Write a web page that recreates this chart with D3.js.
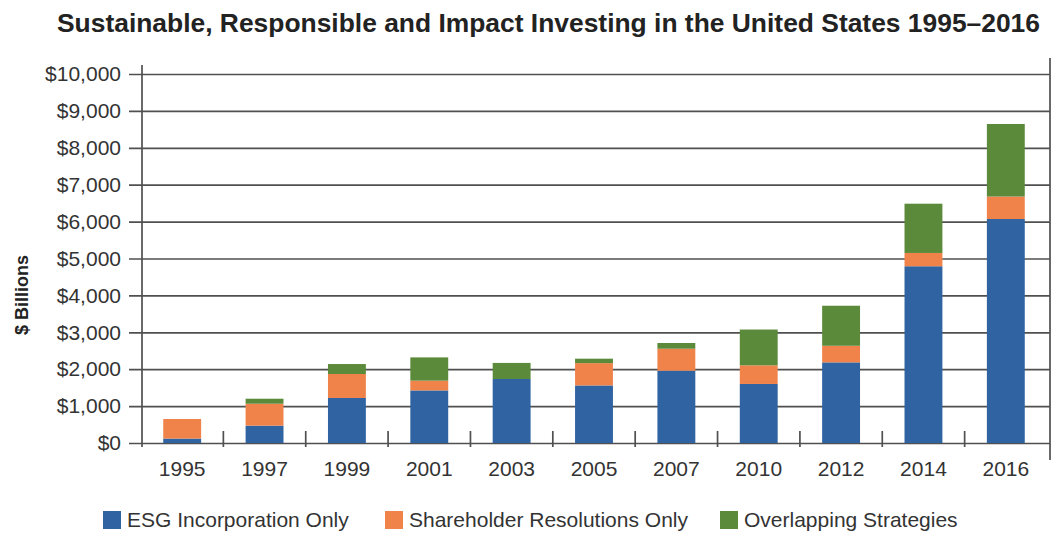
<!DOCTYPE html>
<html>
<head>
<meta charset="utf-8">
<script src="https://cdn.jsdelivr.net/npm/d3@7"></script>
<style>
  body { margin: 0; background: #fff; }
  svg { display: block; font-family: "Liberation Sans", Arial, sans-serif; }
</style>
</head>
<body>
<svg id="chart" width="1055" height="534"></svg>
<script>
const years = ["1995", "1997", "1999", "2001", "2003", "2005", "2007", "2010", "2012", "2014", "2016"];
const esgOnly = [120, 470, 1220, 1425, 1735, 1560, 1960, 1600, 2185, 4790, 6070];
const shareholderOnly = [530, 595, 650, 265, 0, 605, 595, 505, 450, 360, 610];
const overlapping = [0, 135, 270, 630, 435, 120, 155, 970, 1085, 1335, 1965];
const seriesNames = ["ESG Incorporation Only", "Shareholder Resolutions Only", "Overlapping Strategies"];
const yTicks = [0, 1000, 2000, 3000, 4000, 5000, 6000, 7000, 8000, 9000, 10000];
const colors = ["#2f63a1", "#f0834a", "#5b8a3a"];

const title = "Sustainable, Responsible and Impact Investing in the United States 1995\u20132016";
const gridColor = "#505050";
const labelSize = "21px";

const plot = { left: 141, right: 1047, top: 74, bottom: 443 };

const svg = d3.select("#chart");

const rows = years.map((y, i) => ({
    year: y,
    esg: esgOnly[i],
    sr: shareholderOnly[i],
    ov: overlapping[i]
}));
const stack = d3.stack().keys(["esg", "sr", "ov"])(rows);

const x = d3.scaleBand()
    .domain(years)
    .range([plot.left, plot.right])
    .paddingInner(0.54)
    .paddingOuter(0.27);

const y = d3.scaleLinear()
    .domain([0, 10000])
    .range([plot.bottom, plot.top]);

// title
svg.append("text")
    .attr("x", 57)
    .attr("y", 32)
    .attr("textLength", 983)
    .attr("lengthAdjust", "spacingAndGlyphs")
    .style("font-size", "25px")
    .style("font-weight", "bold")
    .style("fill", "#222")
    .text(title);

// y axis with gridlines
const yAxis = svg.append("g")
    .attr("transform", "translate(" + plot.left + ",0)")
    .call(d3.axisLeft(y)
        .tickValues(yTicks)
        .tickSize(-(1050 - plot.left))
        .tickPadding(20)
        .tickFormat(d => "$" + d3.format(",")(d)));
yAxis.select(".domain").remove();
yAxis.selectAll(".tick line")
    .attr("x1", -12)
    .attr("stroke", gridColor)
    .attr("stroke-width", 1.7);
yAxis.selectAll(".tick text")
    .attr("x", -20)
    .style("font-size", labelSize)
    .style("fill", "#333");

// left axis line and right border line
svg.append("line")
    .attr("x1", plot.left + 1).attr("x2", plot.left + 1)
    .attr("y1", 65).attr("y2", 447)
    .attr("stroke", gridColor).attr("stroke-width", 1.7);
svg.append("line")
    .attr("x1", 1050).attr("x2", 1050)
    .attr("y1", 58).attr("y2", 460)
    .attr("stroke", gridColor).attr("stroke-width", 1.7);

// bars
svg.append("g")
    .selectAll("g")
    .data(stack)
    .join("g")
    .attr("fill", (d, i) => colors[i])
    .selectAll("rect")
    .data(d => d)
    .join("rect")
    .attr("x", d => x(d.data.year))
    .attr("width", x.bandwidth())
    .attr("y", d => y(d[1]))
    .attr("height", d => y(d[0]) - y(d[1]));

// x axis: labels centred in bands, ticks at band boundaries
const xAxis = svg.append("g")
    .attr("transform", "translate(0," + plot.bottom + ")")
    .call(d3.axisBottom(x).tickSize(0).tickPadding(18));
xAxis.select(".domain").remove();
xAxis.selectAll(".tick text")
    .style("font-size", labelSize)
    .style("fill", "#333");

const boundary = d => x(d) - x.step() * x.paddingInner() / 2;
svg.append("g")
    .selectAll("line")
    .data(years.slice(1))
    .join("line")
    .attr("x1", boundary)
    .attr("x2", boundary)
    .attr("y1", plot.bottom - 12)
    .attr("y2", plot.bottom + 4)
    .attr("stroke", gridColor)
    .attr("stroke-width", 1.7);

// y axis title
svg.append("text")
    .attr("transform", "translate(28,295) rotate(-90)")
    .attr("text-anchor", "middle")
    .style("font-size", "18px")
    .style("font-weight", "bold")
    .style("fill", "#222")
    .text("$ Billions");

// legend
const legendX = [103, 385, 720];
const legend = svg.append("g")
    .selectAll("g")
    .data(seriesNames)
    .join("g")
    .attr("transform", (d, i) => "translate(" + legendX[i] + ",511)");
legend.append("rect")
    .attr("width", 18)
    .attr("height", 18)
    .attr("fill", (d, i) => colors[i]);
legend.append("text")
    .attr("x", 24)
    .attr("y", 16)
    .style("font-size", labelSize)
    .style("fill", "#333")
    .text(d => d);
</script>
</body>
</html>
